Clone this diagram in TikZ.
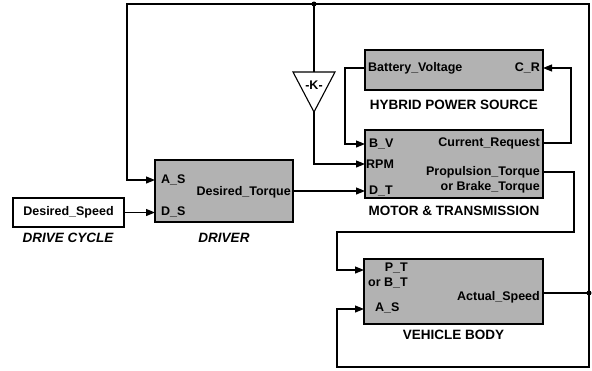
\documentclass[tikz,border=0pt]{standalone}
\usepackage{fontspec}
\setmainfont{Liberation Sans}
\usetikzlibrary{arrows.meta}
\begin{document}
\begin{tikzpicture}[x=1pt,y=-1pt,
  blk/.style={draw=black,line width=1.2pt,fill=gray!60,inner sep=0pt},
  wbox/.style={draw=black,line width=1.2pt,fill=white,inner sep=0pt},
  port/.style={font=\fontsize{12.5}{14}\selectfont\bfseries,inner sep=0pt},
  capt/.style={font=\fontsize{13.5}{15}\selectfont\bfseries,inner sep=0pt},
  icapt/.style={font=\fontsize{13.5}{15}\selectfont\bfseries\itshape,inner sep=0pt},
  wire/.style={line width=1.1pt},
  sig/.style={wire,-{Triangle[length=9pt,width=7pt]}},
  jdot/.style={circle,fill=black,inner sep=0pt,minimum size=5pt}]
\useasboundingbox (0,0) rectangle (592,370);

% blocks
\node[wbox,minimum width=111pt,minimum height=29pt,port] (cyc) at (68.5,212.5) {Desired\_Speed};
\node[blk,minimum width=138pt,minimum height=62pt] (drv) at (224,191) {};
\node[blk,minimum width=178pt,minimum height=40pt] (hyb) at (454,70) {};
\node[blk,minimum width=178pt,minimum height=68pt] (mot) at (454,164) {};
\node[blk,minimum width=179pt,minimum height=65pt] (veh) at (453.5,291.5) {};

% captions
\node[icapt] (cycl) at (68,238) {DRIVE CYCLE};
\node[icapt] (drvl) at (224,238) {DRIVER};
\node[capt] (hybl) at (454,105) {HYBRID POWER SOURCE};
\node[capt] (motl) at (454,211) {MOTOR \& TRANSMISSION};
\node[capt] (vehl) at (453.5,335) {VEHICLE BODY};

% port labels
\node[port,anchor=west] (tAS) at (161,180) {A\_S};
\node[port,anchor=west] (tDS) at (161,212) {D\_S};
\node[port,anchor=east] (tDT) at (291,192) {Desired\_Torque};
\node[port,anchor=west] (tBV) at (368,68) {Battery\_Voltage};
\node[port,anchor=east] (tCR) at (540,68) {C\_R};
\node[port,anchor=west] (tBVi) at (369,144) {B\_V};
\node[port,anchor=west] (tRPM) at (366,164) {RPM};
\node[port,anchor=west] (tDTi) at (369,191) {D\_T};
\node[port,anchor=east] (tCRo) at (540,143) {Current\_Request};
\node[port,anchor=east] (tPT) at (540,172) {Propulsion\_Torque};
\node[port,anchor=east] (tBT) at (540,187) {or Brake\_Torque};
\node[port,anchor=east] (tPTi) at (408,268) {P\_T};
\node[port,anchor=east] (tBTi) at (408,283) {or B\_T};
\node[port,anchor=west] (tASi) at (375,308) {A\_S};
\node[port,anchor=east] (tAct) at (540,297) {Actual\_Speed};

% port coordinates
\coordinate (drvA) at (155,180);
\coordinate (drvD) at (155,212.5);
\coordinate (drvT) at (293,191);
\coordinate (hybB) at (365,68);
\coordinate (hybC) at (543,68);
\coordinate (motB) at (365,144);
\coordinate (motR) at (365,164);
\coordinate (motD) at (365,191);
\coordinate (motC) at (543,143);
\coordinate (motP) at (543,172);
\coordinate (vehP) at (364,270);
\coordinate (vehA) at (364,309);
\coordinate (vehO) at (543,293);

% gain block
\coordinate (ktop) at (314,72);
\coordinate (kbot) at (314,112);
\draw[wire,fill=white] (293,72) -- (335,72) -- (kbot) -- cycle;
\node[port] (gain) at (314,85) {-K-};

% junctions
\node[jdot] (j1) at (589,293) {};
\node[jdot] (j2) at (314,4) {};

% connectors
\draw[sig] (cyc.east) -- (drvD);
\draw[wire] (vehO) -- (j1.center);
\draw[sig] (j1.center) -- (589,4) -- (127,4) -- (127,180) -- (drvA);
\draw[sig] (j1.center) -- (589,367) -- (337,367) -- (337,309) -- (vehA);
\draw[wire] (j2.center) -- (ktop);
\draw[sig] (kbot) -- (314,164) -- (motR);
\draw[sig] (drvT) -- (motD);
\draw[sig] (hybB) -- (345,68) -- (345,144) -- (motB);
\draw[sig] (motC) -- (571,143) -- (571,68) -- (hybC);
\draw[sig] (motP) -- (574,172) -- (574,232) -- (337,232) -- (337,270) -- (vehP);
\end{tikzpicture}
\end{document}
